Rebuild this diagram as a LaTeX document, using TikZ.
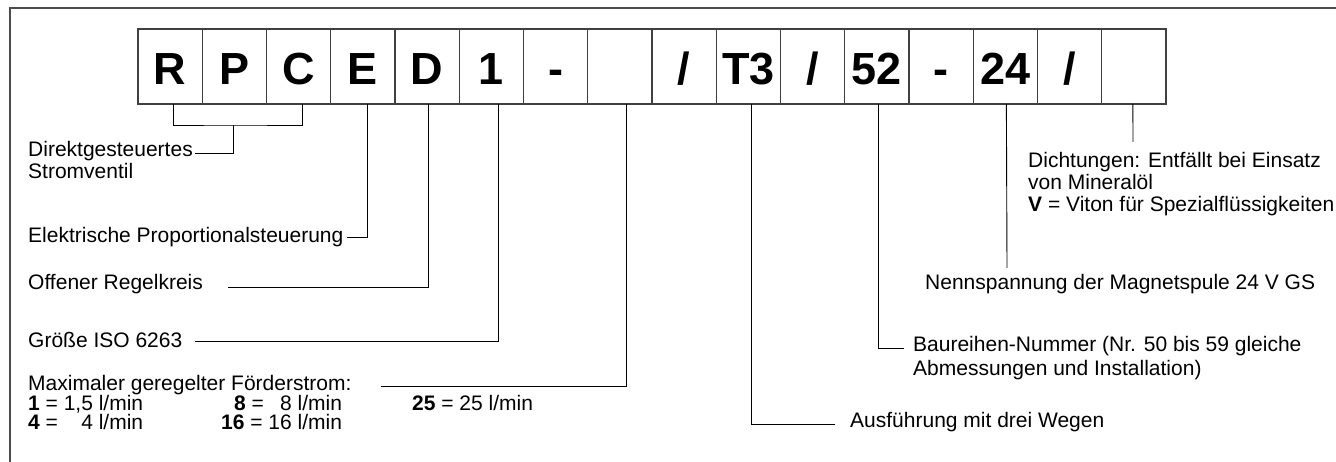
\documentclass[tikz,border=0pt]{standalone}
\usepackage{fontspec}
\setmainfont{Liberation Sans}
\begin{document}
\begin{tikzpicture}[x=1pt,y=-1pt,
  codebox/.style={draw=black!75, line width=1.3pt, minimum width=64.25pt, minimum height=75pt,
    inner sep=0pt, outer sep=0pt, anchor=north west, text height=37pt, text depth=0pt,
    font=\fontsize{45}{45}\selectfont\bfseries},
  lbl/.style={inner sep=0pt, anchor=base west, font=\fontsize{21}{22}\selectfont},
  lblr/.style={inner sep=0pt, anchor=base east, font=\fontsize{21}{22}\selectfont},
  lead/.style={line width=0.9pt, draw=black},
  frame/.style={draw=black!70, line width=1.4pt}]
\useasboundingbox (0,0) rectangle (1336,462);
\draw[frame] (10,462) -- (10,8) -- (1336,8);
% code boxes
\node[codebox] (b1)  at (138.00,29) {R};
\node[codebox] (b2)  at (202.25,29) {P};
\node[codebox] (b3)  at (266.50,29) {C};
\node[codebox] (b4)  at (330.75,29) {E};
\node[codebox] (b5)  at (395.00,29) {D};
\node[codebox] (b6)  at (459.25,29) {1};
\node[codebox] (b7)  at (523.50,29) {-};
\node[codebox] (b8)  at (587.75,29) {};
\node[codebox] (b9)  at (652.00,29) {/};
\node[codebox] (b10) at (716.25,29) {T3};
\node[codebox] (b11) at (780.50,29) {/};
\node[codebox] (b12) at (844.75,29) {52};
\node[codebox] (b13) at (909.00,29) {-};
\node[codebox] (b14) at (973.25,29) {24};
\node[codebox] (b15) at (1037.50,29) {/};
\node[codebox] (b16) at (1101.75,29) {};
% leader end points
\coordinate (br) at (233,125);
\coordinate (e1) at (195,153);
\coordinate (e2) at (347,237);
\coordinate (e3) at (228,287);
\coordinate (e4) at (195,341);
\coordinate (e5) at (381,386);
\coordinate (e6) at (835,424);
\coordinate (e7) at (904,348);
\coordinate (e8) at (1007,268);
\coordinate (e9) at (1133,142);
% leaders
\draw[lead] ([xshift=3pt]b1.south) |- (br) -| ([xshift=4pt]b3.south);
\draw[lead] (br) |- (e1);
\draw[lead] ([xshift=5pt]b4.south) |- (e2);
\draw[lead] ([xshift=1pt]b5.south) |- (e3);
\draw[lead] ([xshift=7pt]b6.south) |- (e4);
\draw[lead] ([xshift=7pt]b8.south) |- (e5);
\draw[lead] ([xshift=3pt]b10.south) |- (e6);
\draw[lead] ([xshift=2pt]b12.south) |- (e7);
\draw[lead] ([xshift=1pt]b14.south) -- (e8);
\draw[lead] ([xshift=-1pt]b16.south) -- (e9);
% left labels
\node[lbl] (l1a) at (28,157) {Direktgesteuertes};
\node[lbl] (l1b) at (28,179) {Stromventil};
\node[lbl] (l2) at (28,243) {Elektrische Proportionalsteuerung};
\node[lbl] (l3) at (28,290) {Offener Regelkreis};
\node[lbl] (l4) at (28,347) {Größe ISO 6263};
\node[lbl] (l5) at (28,390) {Maximaler geregelter Förderstrom:};
\node[lbl] (r1) at (28,410) {\textbf{1} = 1,5 l/min};
\node[lbl] (r2) at (28,429) {\textbf{4} =};
\node[lblr] (r2v) at ([yshift=-19pt]r1.base east) {4 l/min};
\node[lbl] (r4) at (221,429) {\textbf{16} = 16 l/min};
\node[lbl] (r3) at (234,410) {\textbf{8} =};
\node[lblr] (r3v) at ([yshift=19pt]r4.base east) {8 l/min};
\node[lbl] (r5) at (412,410) {\textbf{25} = 25 l/min};
% right labels
\node[lbl] (d1) at (1028,168) {Dichtungen: Entfällt bei Einsatz};
\node[lbl] (d2) at (1028,190) {von Mineralöl};
\node[lbl] (d3) at (1028,212) {\textbf{V} = Viton für Spezialflüssigkeiten};
\node[lbl] (n1) at (925,290) {Nennspannung der Magnetspule 24 V GS};
\node[lbl] (s1) at (913,352) {Baureihen-Nummer (Nr. 50 bis 59 gleiche};
\node[lbl] (s2) at (913,375) {Abmessungen und Installation)};
\node[lbl] (a1) at (850,427) {Ausführung mit drei Wegen};
\end{tikzpicture}
\end{document}
